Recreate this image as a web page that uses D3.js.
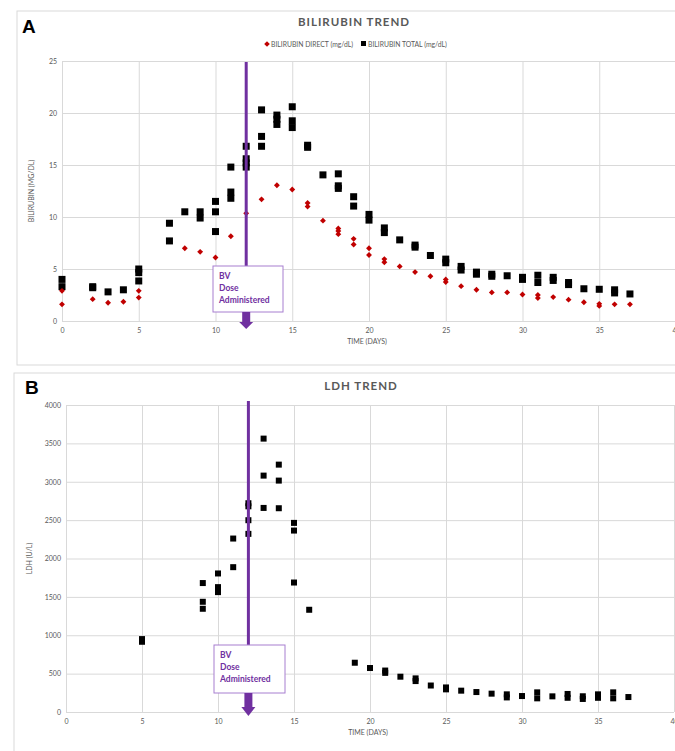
<!DOCTYPE html>
<html><head><meta charset="utf-8">
<script src="https://cdn.jsdelivr.net/npm/d3@7"></script>
<style>
body{margin:0;background:#fff;}
svg{display:block;font-family:Lato,"Open Sans",sans-serif;}
</style></head>
<body><svg id="c" width="675" height="751"></svg>
<script>
// ---- Data ----
const directDays   = [0,0,2,3,4,5,5,8,9,10,11,12,13,14,15,16,16,17,18,18,18,19,19,20,20,21,21,22,23,24,25,25,26,27,28,29,30,31,31,32,33,34,35,35,36,37];
const directValues = [2.9,1.6,2.1,1.75,1.85,2.9,2.25,7.0,6.65,6.1,8.15,10.35,11.7,13.05,12.65,11.35,11.0,9.65,8.9,8.65,8.35,7.9,7.35,7.0,6.35,5.95,5.65,5.25,4.7,4.3,4.0,3.75,3.35,3.0,2.75,2.75,2.55,2.5,2.2,2.3,2.05,1.8,1.65,1.45,1.6,1.6];
const totalDays   = [0,0,2,2,3,4,5,5,5,7,7,8,9,9,10,10,10,11,11,11,12,12,12,12,13,13,13,14,14,14,15,15,15,16,16,17,18,18,18,19,19,20,20,21,21,22,23,23,24,25,25,26,26,27,27,28,28,29,30,30,31,31,32,32,33,33,34,35,36,36,37];
const totalValues = [4.0,3.3,3.3,3.2,2.8,3.0,5.0,4.65,3.85,9.4,7.7,10.5,10.5,9.9,11.5,10.5,8.6,14.8,12.4,11.8,16.8,15.6,15.2,14.8,20.3,17.75,16.8,19.8,19.4,18.9,20.6,19.25,18.6,16.9,16.7,14.05,14.15,13.0,12.75,11.95,11.05,10.25,9.7,8.95,8.5,7.8,7.3,7.1,6.3,5.95,5.6,5.25,4.9,4.7,4.5,4.5,4.3,4.35,4.2,4.0,4.4,3.7,4.2,3.9,3.7,3.5,3.1,3.05,3.0,2.7,2.6];
const ldhDays   = [5,5,9,9,9,10,10,10,11,11,12,12,12,12,13,13,13,14,14,14,15,15,15,16,19,20,21,21,22,23,23,24,25,25,26,27,28,29,29,30,31,31,32,33,33,34,34,35,35,36,36,37];
const ldhValues = [950,915,1680,1436,1345,1805,1627,1562,2260,1887,2720,2680,2499,2321,3562,3080,2659,3223,3015,2655,2464,2364,1687,1332,642,573,540,510,460,438,403,345,320,295,278,260,239,230,190,208,256,178,204,235,185,205,170,230,185,256,178,195];
const xTicks = [0,5,10,15,20,25,30,35,40];
const biliTicks = [0,5,10,15,20,25];
const ldhTicks = [0,500,1000,1500,2000,2500,3000,3500,4000];
const doseDay = 12;
const doseLabel = ["BV","Dose","Administered"];

const svg = d3.select("#c");
const GRID = "#d9d9d9", TXT = "#595959", PURPLE = "#7030A0";

function panel(cfg){
  const g = svg.append("g");
  g.append("rect").attr("x",cfg.frame[0]).attr("y",cfg.frame[1]).attr("width",cfg.frame[2]).attr("height",cfg.frame[3])
    .attr("fill","#fff").attr("stroke",GRID).attr("stroke-width",1);
  const x = d3.scaleLinear().domain([0,40]).range(cfg.xr);
  const y = d3.scaleLinear().domain(cfg.yd).range(cfg.yr);
  g.append("g").attr("transform",`translate(0,${cfg.yr[0]})`)
    .call(d3.axisBottom(x).tickValues(xTicks).tickSize(cfg.yr[1]-cfg.yr[0]).tickFormat(""))
    .call(a=>a.select(".domain").remove())
    .call(a=>a.selectAll("line").attr("stroke",GRID));
  g.append("g").attr("transform",`translate(${cfg.xr[0]},0)`)
    .call(d3.axisLeft(y).tickValues(cfg.yTicks).tickSize(-(cfg.xr[1]-cfg.xr[0])).tickFormat(""))
    .call(a=>a.select(".domain").remove())
    .call(a=>a.selectAll("line").attr("stroke",GRID));
  g.append("g").attr("transform",`translate(0,${cfg.yr[0]+10})`)
    .call(d3.axisBottom(x).tickValues(xTicks).tickSize(0).tickPadding(0).tickFormat(d3.format("d")))
    .call(a=>a.select(".domain").remove())
    .call(a=>a.selectAll("text").attr("fill",TXT).attr("font-size",7).attr("font-family","Lato,sans-serif").attr("dy","0.35em").attr("y",0));
  g.append("g").attr("transform",`translate(${cfg.xr[0]-5},0)`)
    .call(d3.axisLeft(y).tickValues(cfg.yTicks).tickSize(0).tickPadding(0).tickFormat(d3.format("d")))
    .call(a=>a.select(".domain").remove())
    .call(a=>a.selectAll("text").attr("fill",TXT).attr("font-size",7).attr("font-family","Lato,sans-serif"));
  g.append("text").attr("x",cfg.letter[0]).attr("y",cfg.letter[1]).text(cfg.letterText)
    .attr("font-family","Liberation Sans,Arial,sans-serif").attr("font-weight","bold").attr("font-size",19).attr("fill","#000");
  g.append("text").attr("x",cfg.title[0]).attr("y",cfg.title[1]).attr("text-anchor","middle").text(cfg.titleText)
    .attr("font-weight","bold").attr("font-size",11.5).attr("letter-spacing",1).attr("fill",TXT);
  g.append("text").attr("x",(cfg.xr[0]+cfg.xr[1])/2 - 2).attr("y",cfg.yr[0]+23).attr("text-anchor","middle").text("TIME (DAYS)")
    .attr("font-size",7).attr("fill",TXT);
  g.append("text").attr("transform",`translate(${cfg.ytitleX},${(cfg.yr[0]+cfg.yr[1])/2}) rotate(-90)`).attr("text-anchor","middle")
    .text(cfg.ytitle).attr("font-size",7).attr("fill",TXT);
  return {g,x,y};
}

// ---- Panel A ----
const A = panel({frame:[17,11,700,354], xr:[62,676], yr:[321,61], yd:[0,25], yTicks:biliTicks,
  letter:[22,33], letterText:"A", title:[354,26], titleText:"BILIRUBIN TREND", ytitle:"BILIRUBIN (MG/DL)", ytitleX:34});
const lg = A.g.append("g").attr("font-size",6.8).attr("fill",TXT);
lg.append("path").attr("d",d3.symbol(d3.symbolDiamond2,20)()).attr("transform","translate(267,44)").attr("fill","#C00000");
lg.append("text").attr("x",271).attr("y",46.5).text("BILIRUBIN DIRECT (mg/dL)");
lg.append("rect").attr("x",361).attr("y",41).attr("width",5).attr("height",5).attr("fill","#000");
lg.append("text").attr("x",368).attr("y",46.5).text("BILIRUBIN TOTAL (mg/dL)");

A.g.append("g").selectAll("rect").data(d3.range(totalDays.length)).join("rect")
  .attr("x",i=>A.x(totalDays[i])-3.5).attr("y",i=>A.y(totalValues[i])-3.5).attr("width",7).attr("height",7).attr("fill","#000");
A.g.append("g").selectAll("path").data(d3.range(directDays.length)).join("path")
  .attr("d",d3.symbol(d3.symbolDiamond2,22)())
  .attr("transform",i=>`translate(${A.x(directDays[i])},${A.y(directValues[i])})`).attr("fill","#C00000");

// ---- Panel B ----
const B = panel({frame:[14,373,700,400], xr:[66,674], yr:[712,405], yd:[0,4000], yTicks:ldhTicks,
  letter:[25,394], letterText:"B", title:[361,390], titleText:"LDH TREND", ytitle:"LDH (U/L)", ytitleX:32});
B.g.append("g").selectAll("rect").data(d3.range(ldhDays.length)).join("rect")
  .attr("x",i=>B.x(ldhDays[i])-3).attr("y",i=>B.y(ldhValues[i])-3).attr("width",6).attr("height",6).attr("fill","#000");

// ---- Dose annotation ----
function dose(P, topY, box, shaftEnd, headEnd){
  const cx = P.x(doseDay);
  const g = P.g.append("g");
  g.append("line").attr("x1",cx).attr("x2",cx).attr("y1",topY).attr("y2",box[1]).attr("stroke",PURPLE).attr("stroke-width",3);
  g.append("rect").attr("x",box[0]).attr("y",box[1]).attr("width",box[2]).attr("height",box[3])
    .attr("fill","#fff").attr("stroke","#A77FD0").attr("stroke-width",1);
  const b = box[1]+box[3];
  g.append("rect").attr("x",cx-4).attr("y",b).attr("width",8).attr("height",shaftEnd-b).attr("fill",PURPLE);
  g.append("path").attr("d",`M${cx-7},${shaftEnd}L${cx+7},${shaftEnd}L${cx},${headEnd}Z`).attr("fill",PURPLE);
  g.append("g").selectAll("text").data(doseLabel).join("text")
    .attr("x",box[0]+6).attr("y",(d,i)=>box[1]+13+i*12).text(d=>d)
    .attr("font-weight","bold").attr("font-size",8.5).attr("fill",PURPLE);
}
dose(A, 62, [213,266,70,46], 322, 329);
dose(B, 401, [214,645,71,48], 707, 716);
</script></body></html>
